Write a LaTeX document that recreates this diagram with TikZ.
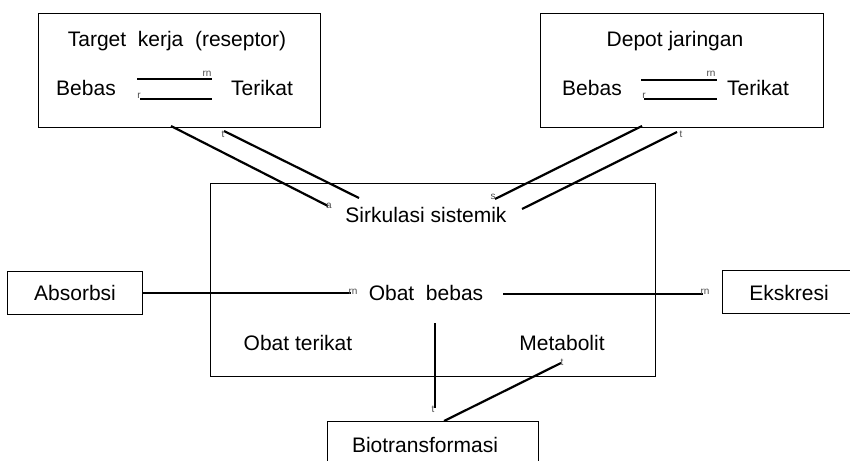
\documentclass[tikz,border=0pt]{standalone}
\usepackage{fontspec}
\setmainfont{Liberation Sans}
\begin{document}
\begin{tikzpicture}[x=1pt,y=-1pt,
  box/.style={draw, line width=1pt, inner sep=0pt},
  lbl/.style={inner sep=0pt, font=\fontsize{21}{25}\selectfont, anchor=base},
  conn/.style={line width=2.2pt},
  tip/.style={inner sep=0pt, font=\fontsize{10}{11}\selectfont, text=black!70}]
\useasboundingbox (0,0) rectangle (850,460);
% boxes
\node[box, minimum width=282pt, minimum height=113pt] (target) at (179,70.5) {};
\node[box, minimum width=283pt, minimum height=113pt] (depot) at (681.5,70.5) {};
\node[box, minimum width=445pt, minimum height=193pt] (central) at (432.5,279.5) {};
\node[box, minimum width=135pt, minimum height=43pt] (absorb) at (74.5,292.5) {};
\node[box, minimum width=134pt, minimum height=43pt] (ekskr) at (789,291.5) {};
\node[inner sep=0pt, minimum width=210pt, minimum height=39pt] (bio) at (433,441) {};
\draw[line width=1pt] (bio.south west) -- (bio.north west) -- (bio.north east) -- (bio.south east);
% texts
\node[lbl] (ttarget) at (177,46) {Target\ \ kerja\ \ (reseptor)};
\node[lbl] (tbebas1) at (86,95.5) {Bebas};
\node[lbl] (tterikat1) at (262,95.5) {Terikat};
\node[lbl] (tdepot) at (675,46) {Depot jaringan};
\node[lbl] (tbebas2) at (592,95.5) {Bebas};
\node[lbl] (tterikat2) at (758,95.5) {Terikat};
\node[lbl] (tsirk) at (426,222) {Sirkulasi sistemik};
\node[lbl] (tobat) at (426,300.5) {Obat\ \ bebas};
\node[lbl] (tterikat) at (298,350.5) {Obat terikat};
\node[lbl] (tmetab) at (562,350.5) {Metabolit};
\node[lbl] (tbio) at (425,452.5) {Biotransformasi};
\node[lbl] (tabs) at (75,300) {Absorbsi};
\node[lbl] (teks) at (789,300.5) {Ekskresi};
% connector end points
\coordinate (e1a) at (137,79);  \coordinate (e1b) at (212,79);
\coordinate (e2a) at (140,99);  \coordinate (e2b) at (212,99);
\coordinate (e3a) at (641,80);  \coordinate (e3b) at (717,80);
\coordinate (e4a) at (644,99);  \coordinate (e4b) at (717,99);
\coordinate (ta1) at (171,126); \coordinate (ta2) at (328,206);
\coordinate (tb1) at (224,131); \coordinate (tb2) at (359,198);
\coordinate (da1) at (642,126); \coordinate (da2) at (495,199);
\coordinate (db1) at (677,132); \coordinate (db2) at (522,209);
\coordinate (ab2) at (351,293);
\coordinate (ek1) at (503,294); \coordinate (ek2) at (703,294);
\coordinate (v1) at (435,323);  \coordinate (v2) at (435,408);
\coordinate (m1) at (444,421);  \coordinate (m2) at (561,363);
% connectors
\draw[conn] (e1a) -- (e1b);
\draw[conn] (e2a) -- (e2b);
\draw[conn] (e3a) -- (e3b);
\draw[conn] (e4a) -- (e4b);
\draw[conn] (ta1) -- (ta2);
\draw[conn] (tb1) -- (tb2);
\draw[conn] (da1) -- (da2);
\draw[conn] (db1) -- (db2);
\draw[conn] (absorb.east |- ab2) -- (ab2);
\draw[conn] (ek1) -- (ek2);
\draw[conn] (v1) -- (v2);
\draw[conn] (m1) -- (m2);
% broken arrow-head glyphs
\node[tip] (g1) at (207,74) {rn};
\node[tip] (g2) at (139,96) {r};
\node[tip] (g3) at (711,74) {rn};
\node[tip] (g4) at (644,96) {r};
\node[tip] (g5) at (329,206) {a};
\node[tip] (g6) at (223,134) {t};
\node[tip] (g7) at (493,197) {s};
\node[tip] (g8) at (681,134) {t};
\node[tip] (g9) at (353,292) {rn};
\node[tip] (g10) at (705,292) {rn};
\node[tip] (g11) at (433,409) {t};
\node[tip] (g12) at (562,362) {t};
\end{tikzpicture}
\end{document}
